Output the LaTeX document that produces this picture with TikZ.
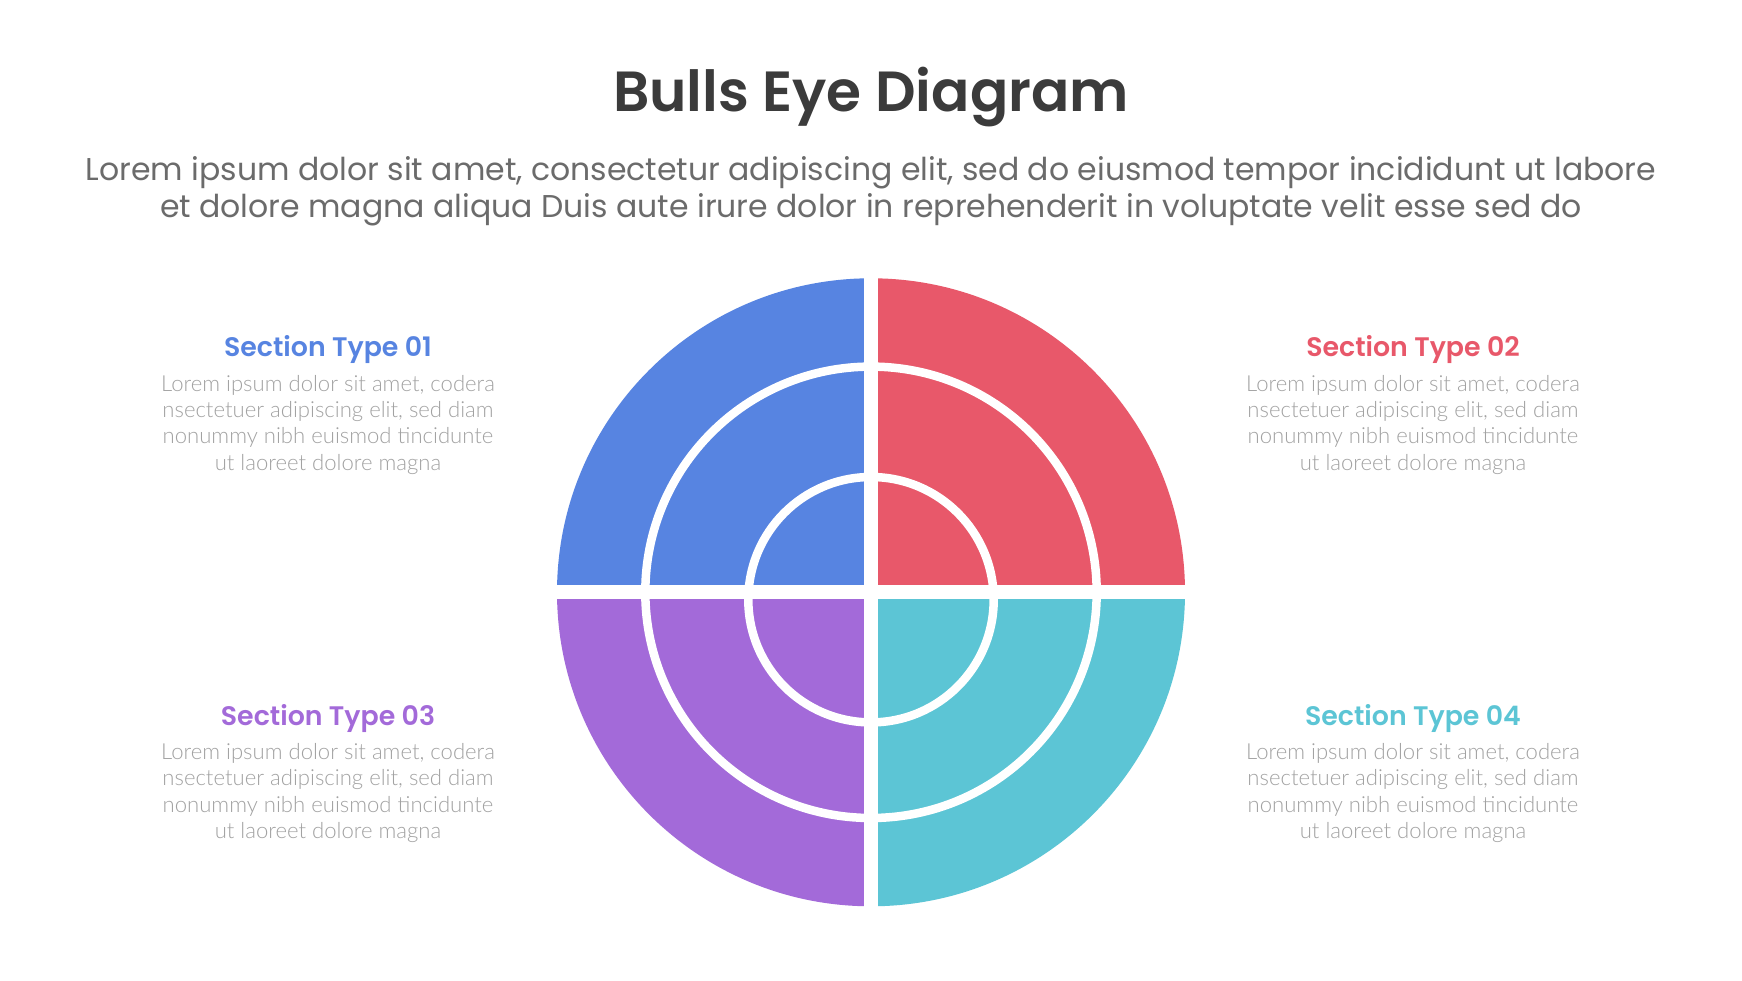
\documentclass[tikz,border=0pt]{standalone}
\usepackage{fontspec}
\setmainfont{Poppins}
\newfontfamily\popsemi{Poppins SemiBold}
\newfontfamily\latolight{Lato Light}
\definecolor{qblue}{HTML}{5784E1}
\definecolor{qred}{HTML}{E8586A}
\definecolor{qpurple}{HTML}{A36AD9}
\definecolor{qteal}{HTML}{5CC5D5}
\definecolor{titlegray}{HTML}{3B3B3B}
\definecolor{subgray}{HTML}{6B6B6B}
\definecolor{bodygray}{HTML}{A2A2A2}
\tikzset{
  ringline/.style={draw=white,line width=8.5pt},
  titletext/.style={anchor=base,inner sep=0pt,text=titlegray,font=\popsemi\fontsize{56.6}{68}\selectfont},
  subtext/.style={anchor=base,inner sep=0pt,text=subgray,font=\fontsize{31.5}{37}\selectfont},
  sectitle/.style={anchor=base,inner sep=0pt,font=\popsemi\fontsize{26.8}{32}\selectfont},
  bodytext/.style={anchor=base,inner sep=0pt,align=center,text=bodygray,font=\latolight\fontsize{22.1}{26.3}\selectfont},
}
\begin{document}
\begin{tikzpicture}[x=1pt,y=1pt]
\useasboundingbox (0,0) rectangle (1742,980);
\fill[white] (0,0) rectangle (1742,980);
\coordinate (c) at (871,387.7);
\coordinate (ci) at (871,380.3);
\fill[qblue] (c) -- ++(0,314) arc (90:180:314) -- cycle;
\fill[qred] (c) -- ++(314,0) arc (0:90:314) -- cycle;
\fill[qpurple] (c) -- ++(-314,0) arc (180:270:314) -- cycle;
\fill[qteal] (c) -- ++(0,-314) arc (270:360:314) -- cycle;
\draw[ringline] (c) circle (225.7);
\draw[ringline] (ci) circle (122.7);
\fill[white] ([shift={(-7,-320)}]c) rectangle ([shift={(7,320)}]c);
\fill[white] ([shift={(-320,-7)}]c) rectangle ([shift={(320,7)}]c);
\node[titletext] (title) at (871,868) {Bulls Eye Diagram};
\node[subtext] (sub1) at (871,799) {Lorem ipsum dolor sit amet, consectetur adipiscing elit, sed do eiusmod tempor incididunt ut labore};
\node[subtext] (sub2) at (871,762) {et dolore magna aliqua Duis aute irure dolor in reprehenderit in voluptate velit esse sed do};
\node[sectitle,text=qblue] (s1) at (328,623.3) {Section Type 01};
\node[sectitle,text=qred] (s2) at (1413,623.3) {Section Type 02};
\node[sectitle,text=qpurple] (s3) at (328,254.3) {Section Type 03};
\node[sectitle,text=qteal] (s4) at (1413,254.3) {Section Type 04};
% anchor=base of a multi-line node is the baseline of its last line
\node[bodytext] (b1) at (328,509.8) {Lorem ipsum dolor sit amet, codera\\nsectetuer adipiscing elit, sed diam\\nonummy nibh euismod tincidunte\\ut laoreet dolore magna};
\node[bodytext] (b2) at (1413,509.8) {Lorem ipsum dolor sit amet, codera\\nsectetuer adipiscing elit, sed diam\\nonummy nibh euismod tincidunte\\ut laoreet dolore magna};
\node[bodytext] (b3) at (328,141.7) {Lorem ipsum dolor sit amet, codera\\nsectetuer adipiscing elit, sed diam\\nonummy nibh euismod tincidunte\\ut laoreet dolore magna};
\node[bodytext] (b4) at (1413,141.7) {Lorem ipsum dolor sit amet, codera\\nsectetuer adipiscing elit, sed diam\\nonummy nibh euismod tincidunte\\ut laoreet dolore magna};
\end{tikzpicture}
\end{document}
